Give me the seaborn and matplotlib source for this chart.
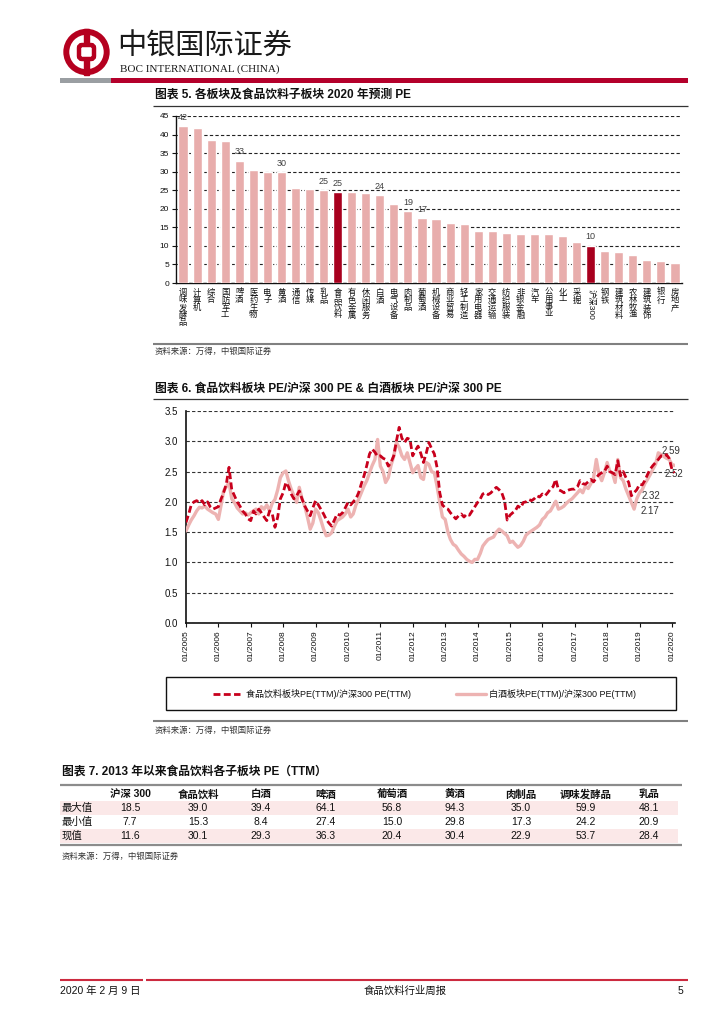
import numpy as np
import pandas as pd
import matplotlib
matplotlib.use('Agg')
import matplotlib.pyplot as plt
import seaborn as sns
from matplotlib.patches import Rectangle, Circle, FancyBboxPatch

# ---- 图表 5 数据 ----
sectors = ['调味发酵品', '计算机', '综合', '国防军工', '啤酒', '医药生物', '电子', '黄酒',
           '通信', '传媒', '乳品', '食品饮料', '有色金属', '休闲服务', '白酒', '电气设备',
           '肉制品', '葡萄酒', '机械设备', '商业贸易', '轻工制造', '家用电器', '交通运输',
           '纺织服装', '非银金融', '汽车', '公用事业', '化工', '采掘', '沪深300', '钢铁',
           '建筑材料', '农林牧渔', '建筑装饰', '银行', '房地产']
pe_2020 = [42.3, 41.8, 38.4, 38.2, 33.0, 30.4, 30.0, 29.8, 25.7, 25.4, 25.0, 24.6,
           24.4, 24.2, 23.7, 21.3, 19.3, 17.4, 17.3, 16.2, 16.0, 14.1, 14.1, 13.6,
           13.2, 13.2, 13.2, 12.6, 11.1, 10.1, 8.6, 8.4, 7.6, 6.2, 6.0, 5.5]
pe_labels = ['42', '', '', '', '33', '', '', '30', '', '', '25', '25', '', '', '24', '',
             '19', '17', '', '', '', '', '', '', '', '', '', '', '', '10', '', '', '', '', '', '']
highlight = ['食品饮料', '沪深300']

# ---- 图表 6 数据 (月度) ----
food_ratio = [
    1.66, 1.80, 1.95, 2.00, 2.02, 1.98, 2.02, 1.95, 2.00, 1.92, 1.88, 1.90,  # 2005
    1.92, 2.05, 2.15, 2.30, 2.57, 2.20, 2.10, 2.00, 1.93, 1.85, 1.80, 1.72,  # 2006
    1.69, 1.85, 1.80, 1.88, 1.82, 1.75, 1.69, 1.85, 1.80, 1.58, 1.75, 2.05,  # 2007
    2.15, 2.32, 2.25, 2.13, 2.05, 2.10, 2.18, 2.05, 1.93, 1.85, 1.77, 1.90,  # 2008
    2.02, 1.95, 1.88, 1.80, 1.71, 1.65, 1.60, 1.70, 1.80, 1.78, 1.82, 1.90,  # 2009
    1.99, 1.95, 2.00, 2.05, 2.15, 2.30, 2.43, 2.60, 2.79, 2.87, 2.82, 2.75,  # 2010
    2.76, 2.72, 2.70, 2.59, 2.65, 2.76, 3.00, 3.23, 3.05, 2.98, 3.05, 3.03,  # 2011
    2.76, 2.85, 2.92, 2.80, 2.65, 2.80, 2.98, 2.88, 2.79, 2.57, 2.15, 1.95,  # 2012
    1.90, 1.88, 1.82, 1.77, 1.72, 1.77, 1.80, 1.75, 1.80, 1.78, 1.85, 1.92,  # 2013
    1.99, 2.05, 2.13, 2.15, 2.12, 2.15, 2.20, 2.24, 2.20, 2.15, 2.02, 1.70,  # 2014
    1.78, 1.82, 1.85, 1.93, 1.90, 1.99, 2.00, 2.04, 2.02, 2.05, 2.10, 2.08,  # 2015
    2.13, 2.10, 2.15, 2.21, 2.25, 2.37, 2.20, 2.18, 2.15, 2.18, 2.20, 2.21,  # 2016
    2.21, 2.25, 2.35, 2.30, 2.29, 2.33, 2.37, 2.33, 2.40, 2.45, 2.48, 2.50,  # 2017
    2.59, 2.50, 2.48, 2.45, 2.68, 2.43, 2.50, 2.40, 2.32, 2.10, 2.15, 2.20,  # 2018
    2.29, 2.28, 2.35, 2.45, 2.54, 2.60, 2.65, 2.70, 2.76, 2.75, 2.78, 2.72,  # 2019
    2.54, 2.48,                                                              # 2020
]
baijiu_ratio = [
    1.52, 1.62, 1.70, 1.77, 1.85, 1.91, 1.90, 1.93, 1.88, 1.85, 1.82, 1.80,  # 2005
    1.71, 1.95, 2.18, 2.25, 2.32, 2.05, 1.99, 1.90, 1.85, 1.80, 1.82, 1.78,  # 2006
    1.82, 1.85, 1.88, 1.80, 1.92, 1.88, 1.95, 1.85, 1.98, 2.04, 2.20, 2.40,  # 2007
    2.48, 2.51, 2.35, 2.21, 2.10, 1.99, 2.24, 2.05, 1.93, 1.75, 1.55, 1.65,  # 2008
    1.88, 1.82, 1.70, 1.55, 1.44, 1.45, 1.49, 1.60, 1.69, 1.72, 1.75, 1.80,  # 2009
    1.88, 1.75, 1.80, 1.95, 2.04, 2.15, 2.26, 2.35, 2.48, 2.60, 2.70, 3.03,  # 2010
    2.59, 2.50, 2.32, 2.40, 2.60, 2.75, 2.98, 2.90, 2.76, 2.70, 2.81, 2.65,  # 2011
    2.48, 2.55, 2.60, 2.40, 2.37, 2.65, 2.62, 2.50, 2.48, 2.26, 1.99, 1.75,  # 2012
    1.71, 1.50, 1.38, 1.30, 1.27, 1.20, 1.14, 1.10, 1.05, 1.02, 1.00, 1.05,  # 2013
    1.05, 1.15, 1.27, 1.33, 1.38, 1.40, 1.42, 1.50, 1.55, 1.52, 1.48, 1.44,  # 2014
    1.33, 1.35, 1.30, 1.25, 1.28, 1.35, 1.45, 1.49, 1.52, 1.55, 1.58, 1.62,  # 2015
    1.71, 1.75, 1.82, 1.85, 1.93, 2.01, 1.88, 1.90, 1.93, 1.98, 2.02, 2.05,  # 2016
    2.10, 2.15, 2.20, 2.15, 2.26, 2.22, 2.30, 2.40, 2.70, 2.45, 2.35, 2.48,  # 2017
    2.65, 2.50, 2.48, 2.32, 2.70, 2.40, 2.35, 2.21, 2.10, 1.99, 1.88, 2.05,  # 2018
    2.15, 2.20, 2.30, 2.37, 2.45, 2.54, 2.62, 2.81, 2.78, 2.75, 2.72, 2.70,  # 2019
    2.62, 2.60,                                                              # 2020
]
months = pd.date_range('2005-01-01', periods=len(food_ratio), freq='MS')
year_ticks = pd.date_range('2005-01-01', '2020-01-01', freq='YS')
end_notes = ['2.59', '2.52', '2.32', '2.17']

# ---- 图表 7 数据 ----
table_cols = ['沪深 300', '食品饮料', '白酒', '啤酒', '葡萄酒', '黄酒', '肉制品', '调味发酵品', '乳品']
row_names = ['最大值', '最小值', '现值']
max_vals = [18.5, 39.0, 39.4, 64.1, 56.8, 94.3, 35.0, 59.9, 48.1]
min_vals = [7.7, 15.3, 8.4, 27.4, 15.0, 29.8, 17.3, 24.2, 20.9]
cur_vals = [11.6, 30.1, 29.3, 36.3, 20.4, 30.4, 22.9, 53.7, 28.4]

# ---- 样式 ----
sns.set_theme(style='white')
plt.rcParams['font.family'] = ['Liberation Sans', 'Noto Sans CJK SC']
plt.rcParams['axes.unicode_minus'] = False

RED = '#A8001E'
PINK = '#E8ADAC'
LINE_RED = '#C8001C'
LINE_PINK = '#EDB3B2'
SRC = '资料来源：万得，中银国际证券'

W, H = 724, 1024
fig = plt.figure(figsize=(W / 100, H / 100), dpi=100)

bg = fig.add_axes([0, 0, 1, 1])
bg.set_xlim(0, W)
bg.set_ylim(H, 0)
bg.axis('off')


def px_axes(l, t, r, b):
    a = fig.add_axes([l / W, 1 - b / H, (r - l) / W, (b - t) / H])
    a.set_facecolor('none')
    return a


def hline(y, x0, x1, color, lw):
    bg.plot([x0, x1], [y, y], color=color, lw=lw, solid_capstyle='butt')


# 页眉 logo
bg.add_patch(Rectangle((84.3, 29), 4.5, 46, color='#B5001F', zorder=2))
bg.add_patch(Circle((86.5, 52), 20.2, fill=False, ec='#B5001F', lw=4.3, zorder=3))
bg.add_patch(FancyBboxPatch((79, 45), 15, 14, boxstyle='round,pad=0,rounding_size=3',
                            fc='white', ec='#B5001F', lw=3.2, zorder=4))
bg.text(117, 47, '中银国际证券', fontsize=21, family=['Noto Sans CJK SC'], color='#1a1a1a',
        va='center', ha='left')
bg.text(120, 69.5, 'BOC INTERNATIONAL (CHINA)', fontsize=8, family=['Liberation Serif'],
        color='#1a1a1a', va='center', ha='left')
bg.add_patch(Rectangle((60, 78), 51, 5, color='#9A9EA2', lw=0))
bg.add_patch(Rectangle((111, 78), 577, 5, color='#B4002B', lw=0))

# ---- 图表 5 ----
bg.text(155, 95, '图表 5. 各板块及食品饮料子板块 2020 年预测 PE', fontsize=8.5,
        fontweight='bold', va='center', ha='left', color='#111111')
hline(106, 153, 688, '#333333', 0.9)

ax1 = px_axes(176, 116, 682, 283)
df1 = pd.DataFrame({'sector': sectors, 'pe': pe_2020,
                    'kind': ['hl' if s in highlight else 'base' for s in sectors]})
sns.barplot(data=df1, x='sector', y='pe', hue='kind', palette={'base': PINK, 'hl': RED},
            width=0.65, dodge=False, legend=False, saturation=1, ax=ax1, zorder=3)
ax1.set_xlim(-0.5, len(sectors) - 0.5)
ax1.set_ylim(0, 45)
ax1.set_yticks(range(0, 46, 5))
ax1.yaxis.grid(True, ls=(0, (3, 2)), color='#222222', lw=0.8)
ax1.set_axisbelow(True)
ax1.set_xlabel('')
ax1.set_ylabel('')
for s in ['top', 'right']:
    ax1.spines[s].set_visible(False)
for s in ['left', 'bottom']:
    ax1.spines[s].set_color('#111111')
    ax1.spines[s].set_linewidth(1.0)
ax1.tick_params(axis='y', labelsize=6, length=3, width=0.8, pad=2, left=True, colors='#111111')
ax1.tick_params(axis='x', length=0, pad=4)
ax1.set_xticks(range(len(sectors)))
ax1.set_xticklabels([s if s == '沪深300' else '\n'.join(s) for s in sectors],
                    fontsize=6, linespacing=0.95, va='top', color='#111111')
for lab in ax1.get_xticklabels():
    if lab.get_text() == '沪深300':
        lab.set_rotation(270)
for i, (v, t) in enumerate(zip(pe_2020, pe_labels)):
    if t:
        ax1.annotate(t, (i, v), xytext=(0, 3), textcoords='offset points', ha='center',
                     va='bottom', fontsize=6.5, color='#404040', zorder=5)

hline(344, 153, 688, '#808080', 1.5)
bg.text(155, 352, SRC, fontsize=6, style='italic', va='center', ha='left', color='#333333')

# ---- 图表 6 ----
bg.text(155, 389, '图表 6. 食品饮料板块 PE/沪深 300 PE & 白酒板块 PE/沪深 300 PE', fontsize=8.5,
        fontweight='bold', va='center', ha='left', color='#111111')
hline(399, 153, 688, '#333333', 0.9)

ax2 = px_axes(186, 411, 675, 623)
sns.lineplot(x=months, y=baijiu_ratio, color=LINE_PINK, lw=2.4, ax=ax2, zorder=3)
sns.lineplot(x=months, y=food_ratio, color=LINE_RED, lw=2.0, ls=(0, (2.5, 1.2)), ax=ax2, zorder=4)
ax2.set_xlim(pd.Timestamp('2005-01-01'), pd.Timestamp('2020-02-05'))
ax2.set_ylim(0, 3.5)
ax2.set_yticks(np.arange(0, 3.51, 0.5))
ax2.set_yticklabels([f'{v:.1f}' for v in np.arange(0, 3.51, 0.5)])
ax2.yaxis.grid(True, ls=(0, (3, 2)), color='#333333', lw=0.8)
ax2.set_axisbelow(True)
ax2.set_xticks(year_ticks)
ax2.set_xticklabels([d.strftime('%m/%Y') for d in year_ticks], rotation=90, fontsize=6,
                    color='#111111')
ax2.set_xlabel('')
ax2.set_ylabel('')
for s in ['top', 'right']:
    ax2.spines[s].set_visible(False)
for s in ['left', 'bottom']:
    ax2.spines[s].set_color('#111111')
    ax2.spines[s].set_linewidth(1.2)
ax2.tick_params(axis='y', labelsize=7, length=0, pad=6, colors='#111111')
ax2.tick_params(axis='x', length=3, width=0.8, pad=2, bottom=True, colors='#111111')

for t, (x, y) in zip(end_notes, [(662, 451), (665, 474), (642, 496), (641, 511)]):
    bg.text(x, y, t, fontsize=7, va='center', ha='left', color='#333333', zorder=10)

# 图例
bg.add_patch(Rectangle((166, 677), 510, 33, fill=False, ec='#111111', lw=1.0))
bg.plot([213, 240], [693.5, 693.5], color=LINE_RED, lw=2.0, ls=(0, (2.5, 1.2)))
bg.text(246, 694, '食品饮料板块PE(TTM)/沪深300 PE(TTM)', fontsize=6.5, va='center',
        ha='left', color='#111111')
bg.plot([456, 486], [693.5, 693.5], color=LINE_PINK, lw=2.4)
bg.text(489, 694, '白酒板块PE(TTM)/沪深300 PE(TTM)', fontsize=6.5, va='center',
        ha='left', color='#111111')

hline(721, 153, 688, '#808080', 1.5)
bg.text(155, 731, SRC, fontsize=6, style='italic', va='center', ha='left', color='#333333')

# ---- 图表 7 表格 ----
bg.text(62, 772, '图表 7. 2013 年以来食品饮料各子板块 PE（TTM）', fontsize=8.5,
        fontweight='bold', va='center', ha='left', color='#111111')
col_x = [130, 198, 261, 326, 392, 455, 521, 586, 649]
row_y = [808, 822, 836]
for y in [row_y[0], row_y[2]]:
    bg.add_patch(Rectangle((60, y - 7), 618, 14, color='#FBE8E8', lw=0))
hline(784.5, 60, 682, '#8C8C8C', 1.6)
hline(844.5, 60, 682, '#8C8C8C', 1.6)
for x, c in zip(col_x, table_cols):
    bg.text(x, 794.5, c, fontsize=7.5, fontweight='bold', ha='center', va='center', color='#111111')
for y, name, vals in zip(row_y, row_names, [max_vals, min_vals, cur_vals]):
    bg.text(62, y, name, fontsize=7.5, ha='left', va='center', color='#111111')
    for x, v in zip(col_x, vals):
        bg.text(x, y, f'{v:.1f}', fontsize=7.5, ha='center', va='center', color='#111111')
bg.text(62, 857, SRC, fontsize=6, style='italic', va='center', ha='left', color='#333333')

# ---- 页脚 ----
hline(980, 60, 143, '#CC2A3F', 1.5)
hline(980, 146, 688, '#CC2A3F', 1.5)
bg.text(60, 991, '2020 年 2 月 9 日', fontsize=7.5, ha='left', va='center', color='#111111')
bg.text(405, 991, '食品饮料行业周报', fontsize=7.5, ha='center', va='center', color='#111111')
bg.text(683, 991, '5', fontsize=7.5, ha='right', va='center', color='#111111')

fig.savefig('out.png', dpi=100, facecolor='white')
plt.close(fig)
